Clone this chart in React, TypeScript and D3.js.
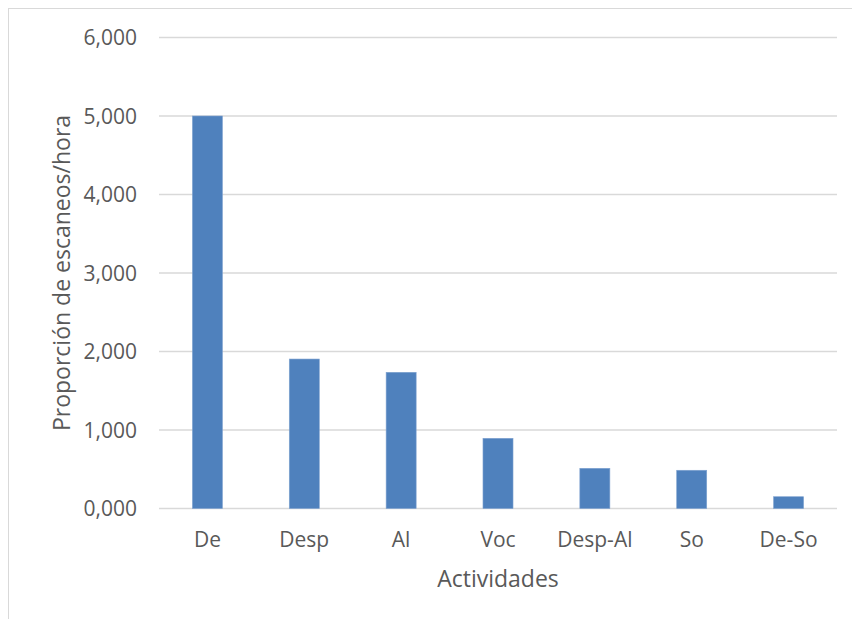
import React from "react";
import * as d3 from "d3";

const categories = ["De", "Desp", "Al", "Voc", "Desp-Al", "So", "De-So"];
const values = [5.0, 1.904, 1.735, 0.894, 0.512, 0.487, 0.15];
const yTicks = [0, 1, 2, 3, 4, 5, 6];
const xTitle = "Actividades";
const yTitle = "Proporción de escaneos/hora";

const W = 852;
const H = 619;
const M = { left: 159, right: 837, top: 37.5, bottom: 508.5 };
const FONT = "'Open Sans', 'Noto Sans', sans-serif";
const TEXT = "#595959";

const locale = d3.formatLocale({ decimal: ",", thousands: ".", grouping: [3], currency: ["", "€"] });
const fmt = locale.format(".3f");

export default function App() {
  const x = d3.scaleBand<string>().domain(categories).range([M.left, M.right]).paddingInner(0.69).paddingOuter(0.345);
  const y = d3.scaleLinear().domain([0, 6]).range([M.bottom, M.top]);

  return (
    <svg
      width={W}
      height={H}
      style={{ position: "absolute", left: 0, top: 0, background: "#fff" }}
      fontFamily={FONT}
    >
      <rect x={8.5} y={8.5} width={W} height={H} fill="#fff" stroke="#d9d9d9" strokeWidth={1} />
      {yTicks.map((t) => (
        <g key={t}>
          <line x1={M.left} x2={M.right} y1={y(t)} y2={y(t)} stroke="#d9d9d9" strokeWidth={1.4} />
          <text x={137} y={y(t)} dy="0.36em" textAnchor="end" fontSize={21} fill={TEXT}>
            {fmt(t)}
          </text>
        </g>
      ))}
      {categories.map((c, i) => (
        <rect
          key={c}
          x={x(c)}
          y={y(values[i])}
          width={x.bandwidth()}
          height={y(0) - y(values[i])}
          fill="#4f81bd"
          stroke="#7fa2d0"
          strokeWidth={0.6}
        />
      ))}
      {categories.map((c) => (
        <text key={c} x={(x(c) as number) + x.bandwidth() / 2} y={547} textAnchor="middle" fontSize={21} fill={TEXT}>
          {c}
        </text>
      ))}
      <text x={(M.left + M.right) / 2} y={587} textAnchor="middle" fontSize={23} fill={TEXT}>
        {xTitle}
      </text>
      <text
        transform={`translate(70,${(M.top + M.bottom) / 2}) rotate(-90)`}
        textAnchor="middle"
        fontSize={23}
        fill={TEXT}
      >
        {yTitle}
      </text>
    </svg>
  );
}
